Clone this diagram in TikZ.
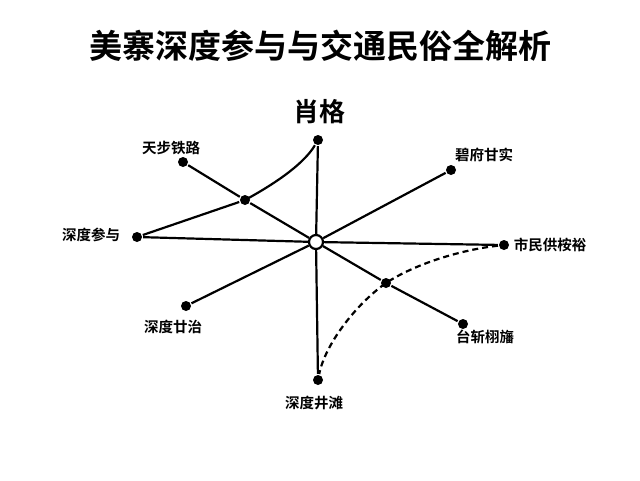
\documentclass[tikz,border=0pt]{standalone}
\usepackage{fontspec}
\setmainfont{Noto Sans CJK SC}
\newfontfamily\cjkbf{Noto Sans CJK SC Bold}
\usetikzlibrary{positioning, calc}

\begin{document}
\begin{tikzpicture}[x=1pt,y=-1pt,
      line width=2.2pt,
      dot/.style={circle,fill=black,inner sep=0pt,minimum size=10pt},
      lbl/.style={font=\cjkbf\fontsize{14.5}{14.5}\selectfont,inner sep=1pt}]
            \useasboundingbox (0,0) rectangle (640,480);

             \node [font=\cjkbf\fontsize{33}{33}\selectfont] at (320,46) (title) {美寨深度参与与交通民俗全解析};

             \tikzstyle{hub} = [draw, circle, fill=white, line width=2.2pt, minimum size=14pt, inner sep=0pt]

             % hub and end points
             \node [hub] at (316,242) (hub) {};
             \node [dot] at (318,140) (top) {};
             \node [dot] at (183,162) (tianbu) {};
             \node [dot] at (451,170) (bifu) {};
             \node [dot] at (137,237) (canyu) {};
             \node [dot] at (504,245) (shimin) {};
             \node [dot] at (186,306) (ganzhi) {};
             \node [dot] at (463,324) (taizhan) {};
             \node [dot] at (318,380) (jingtan) {};
             \node [dot] at (245,200) (midA) {};
             \node [dot] at (386,283) (midB) {};

             % labels
             \node [font=\cjkbf\fontsize{26}{26}\selectfont] at (319,112) (toplbl) {肖格};
             \node [lbl] at (171,148) (tianbulbl) {天步铁路};
             \node [lbl] at (484,155) (bifulbl) {碧府甘实};
             \node [lbl] at (91,235) (canyulbl) {深度参与};
             \node [lbl] at (550,245) (shiminlbl) {市民供桉裕};
             \node [lbl] at (173,327) (ganzhilbl) {深度廿治};
             \node [lbl] at (485,337) (taizhanlbl) {台斩栩旛};
             \node [lbl] at (314,403) (jingtanlbl) {深度井滩};

             % spokes
             \draw (top) -- (hub);
             \draw (tianbu) -- (midA) -- (hub);
             \draw (bifu) -- (hub);
             \draw (canyu) -- (hub);
             \draw (shimin) -- (hub);
             \draw (ganzhi) -- (hub);
             \draw (hub) -- (midB) -- (taizhan);
             \draw (jingtan) -- (hub);

             % curves
             \draw (canyu) -- (midA);
             \draw (midA.center) .. controls (280,181) and (305,162) .. (top);
             \draw [dashed, dash pattern=on 6pt off 4pt] (shimin) .. controls (460,250) and (415,264) .. (midB.center)
                   .. controls (355,305) and (325,345) .. (jingtan);
\end{tikzpicture}
\end{document}
